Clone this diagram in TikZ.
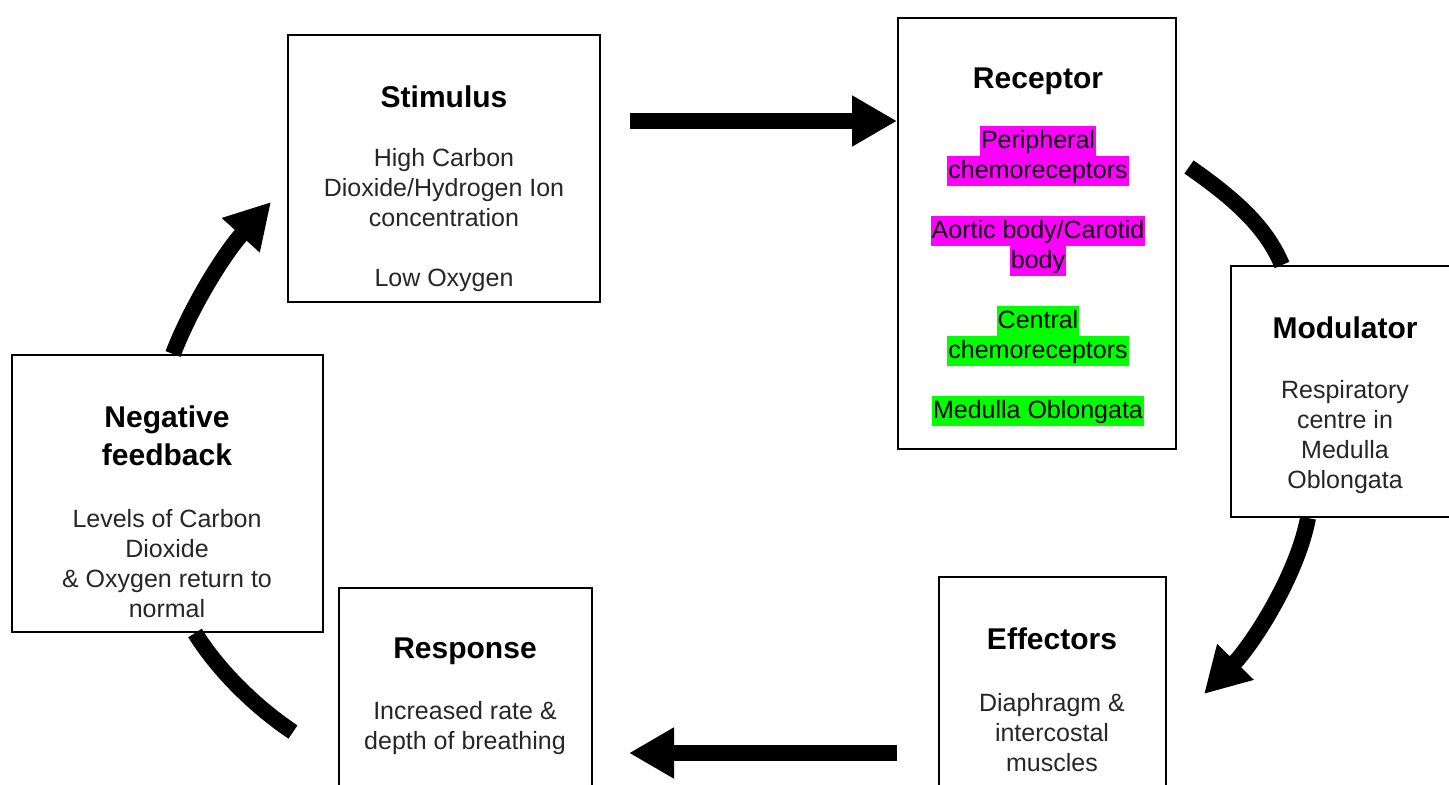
\documentclass[tikz,border=0pt]{standalone}
\usepackage{fontspec}
\setmainfont{Liberation Sans}
\usepackage{tikz}
\usetikzlibrary{arrows.meta}

\definecolor{hlpink}{RGB}{255,0,255}
\definecolor{hlgreen}{RGB}{0,255,0}
\newcommand{\hl}[2]{{\setlength{\fboxsep}{0pt}\colorbox{#1}{\rule[-3.5pt]{0pt}{15pt}\kern0.5pt#2\kern0.5pt}}}

\begin{document}
\begin{tikzpicture}[x=0.5pt,y=-0.5pt,
	box/.style={draw,line width=1pt,inner sep=0pt},
	heading/.style={font=\fontsize{15}{19}\selectfont\bfseries,align=center,inner sep=0pt},
	body/.style={font=\fontsize{12.5}{15}\selectfont,align=center,inner sep=0pt,text=black!85},
	flow/.style={line width=8pt,-{Triangle[length=22.5pt,width=24pt]}},
	link/.style={line width=8pt}]
\useasboundingbox (0,0) rectangle (1449,785);

\node	[box,minimum width=156pt,minimum height=133.5pt]	(stim)	at (444,168.5)	{};
\node	[box,minimum width=139pt,minimum height=215.5pt]	(rec)	at (1037,233.5)	{};
\node	[box,minimum width=114.5pt,minimum height=125.5pt]	(mod)	at (1345.5,391.5)	{};
\node	[box,minimum width=113.5pt,minimum height=126.5pt]	(eff)	at (1052.5,703.5)	{};
\node	[box,minimum width=126.5pt,minimum height=121pt]	(resp)	at (465.5,709)	{};
\node	[box,minimum width=155.5pt,minimum height=138.5pt]	(neg)	at (167.5,493.5)	{};

\node	[heading]	(stimt)	at (444,97)		{Stimulus};
\node	[body]		(stimb)	at (444,220)	{High Carbon\\Dioxide/Hydrogen Ion\\concentration\\[15pt]Low Oxygen};
\node	[heading]	(rect)	at (1038,81)	{Receptor};
\node	[body,text=black]	(recb)	at (1038,276)	{\hl{hlpink}{Peripheral}\\\hl{hlpink}{chemoreceptors}\\[15pt]
	\hl{hlpink}{Aortic body/Carotid}\\\hl{hlpink}{body}\\[15pt]
	\hl{hlgreen}{Central}\\\hl{hlgreen}{chemoreceptors}\\[15pt]
	\hl{hlgreen}{Medulla Oblongata}};
\node	[heading]	(modt)	at (1345,328)	{Modulator};
\node	[body]		(modb)	at (1345,437)	{Respiratory\\centre in\\Medulla\\Oblongata};
\node	[heading]	(efft)	at (1052,639)	{Effectors};
\node	[body]		(effb)	at (1052,733)	{Diaphragm \&\\intercostal\\muscles};
\node	[heading]	(respt)	at (465,651)	{Response};
\node	[body]		(respb)	at (465,728.5)	{Increased rate \&\\depth of breathing};
\node	[heading]	(negt)	at (167,436)	{Negative\\feedback};
\node	[body]		(negb)	at (167,564)	{Levels of Carbon\\Dioxide\\\& Oxygen return to\\normal};

\draw	[flow]	([shift={(14.5pt,-43.5pt)}]stim.north east) -- ([yshift=-52pt]rec.north west);
\draw	[link]	([shift={(6pt,-75pt)}]rec.north east) .. controls (1238,201) and (1267,229) .. ([xshift=26pt]mod.north west);
\draw	[flow]	([xshift=39pt]mod.south west) .. controls (1297,576) and (1252,645) .. ([shift={(18.5pt,-59pt)}]eff.north east);
\draw	[flow]	([shift={(-20.5pt,-88.5pt)}]eff.north west) -- ([shift={(18pt,-83pt)}]resp.north east);
\draw	[link]	([shift={(-22.5pt,-72.5pt)}]resp.north west) .. controls (256.6,707.8) and (218.5,671) .. ([xshift=92pt]neg.south west);
\draw	[flow]	([xshift=81pt]neg.north west) .. controls (190.5,308) and (223.7,254) .. ([shift={(-8pt,-84pt)}]stim.north west);
\end{tikzpicture}
\end{document}
